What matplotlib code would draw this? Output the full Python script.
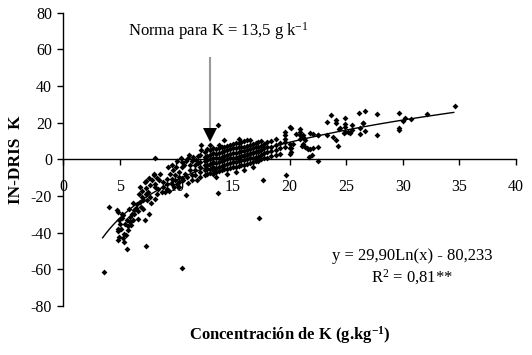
import numpy as np
import matplotlib.pyplot as plt

plt.rcParams['font.family'] = 'Liberation Serif'
plt.rcParams['mathtext.fontset'] = 'custom'
plt.rcParams['mathtext.rm'] = 'Liberation Serif'
plt.rcParams['axes.unicode_minus'] = False

# --- datos (K g/kg, IN-DRIS K) ---
# zona baja (K < 9)
k_low = [4.06, 4.8, 4.9, 5.2, 5.3, 4.97, 5.03, 4.88, 4.88, 4.97, 4.88, 5.32, 5.38,
         5.77, 5.77, 5.91, 5.62, 5.91, 6.06, 6.27, 6.44, 6.56, 6.8, 6.94, 7.33,
         7.33, 7.24, 6.8, 7.09, 7.44, 7.68, 7.53, 8.06, 8.12, 8.12, 8.27, 8.12,
         7.62, 7.24, 6.65, 6.21, 8.5, 8.85, 8.85, 8.7, 5.1, 5.5, 5.6, 5.4, 6.0,
         5.2, 6.3, 6.6, 6.9, 7.0, 7.7, 7.9, 8.3, 8.4, 7.8, 7.1, 6.2, 5.8, 6.7,
         8.0, 7.6, 8.6]
dris_low = [-26.2, -27.8, -28.5, -30, -30.5, -33.2, -35.4, -37.8, -39, -42.3, -44.1,
            -42.7, -40.5, -38.7, -36.5, -34.2, -33.2, -31.4, -29.6, -27.4, -26.3,
            -24.5, -23.3, -20.5, -18.7, -15.4, -12.4, -15.1, -22.3, -22, -20.5,
            -17.8, -8.7, -13.2, -15, -18.7, -21.4, -29.6, -33.2, -32.3, -33.2,
            -11.4, -12.4, -15, -17.8, -38, -35, -41, -45, -36, -32, -30, -28, -26,
            -17, -14, -11, -10, -16, -24, -27, -24, -27, -19, -7.8, -10, -8]

# zona 9 - 12.5
k_mid1 = [9.15, 9.15, 9.21, 9.44, 9.59, 9.59, 9.74, 9.89, 9.89, 10.03, 10.27, 10.27,
          10.27, 10.47, 10.47, 10.62, 10.92, 10.77, 11.21, 11.36, 11.36, 11.65,
          11.65, 11.65, 11.8, 12.09, 12.09, 12.09, 9.3, 9.6, 10.0, 10.1, 10.4,
          10.7, 10.9, 11.0, 11.1, 11.2, 11.4, 11.5, 11.7, 11.9, 11.9, 12.15, 12.15,
          12.1, 12.1, 9.0, 9.4, 10.2, 11.0, 10.5, 9.8]
dris_mid1 = [-10.5, -13.2, -16, -7.8, -10.5, -13.2, -6, -8.7, -11.4, -13.2, -6.9,
             -9.6, -12.4, -1.5, -4.2, -11.4, -9.6, -7.8, -6, -8.7, -11.4, -3.3, -6,
             -8.7, -11.1, -4.2, -6.9, -9.6, -4, -3, -4, -1, 0.5, -3, -1, 1, 2.2, -3,
             -1, 1.5, -0.5, 2, -2, 7.6, 5.3, 2.5, -1.5, -18, -17, -15, -13, -10, -15]

# zona densa 12.5 - 20 (columnas)
k_cols = [12.5, 12.75, 13.0, 13.25, 13.5, 13.75, 14.0, 14.25, 14.5, 14.75, 15.0,
          15.25, 15.5, 15.75, 16.0, 16.25, 16.5, 16.75, 17.0, 17.25, 17.5, 17.75,
          18.0, 18.4, 18.8, 19.2, 19.6, 20.0]
dris_cols = [[-8.7, -6, -3.3, -1, 1.5, 4],
             [-8, -5.5, -3, -0.5, 2, 5.5],
             [-7.5, -5, -2.5, 0, 2.5, 5, 8],
             [-8, -6, -4, -1.5, 1, 3.5, 6],
             [-9.5, -7, -4.5, -2, 0.5, 3, 5.5],
             [-6.5, -4, -1.5, 1, 3.5, 6, 8],
             [-6, -3.5, -1, 1.5, 4, 6.5],
             [-5.5, -3, -0.5, 2, 4.5, 7, 10.6],
             [-8, -5, -2.5, 0, 2.5, 5, 7.5],
             [-4.5, -2, 0.5, 3, 5.5, 8],
             [-4, -1.5, 1, 3.5, 6, 8.5],
             [-7, -4, -1.5, 1, 3.5, 6, 9],
             [-3.5, -1, 1.5, 4, 6.5, 9, 11],
             [-3, -0.5, 2, 4.5, 7, 9.5],
             [-6, -3, -0.5, 2, 4.5, 7, 10],
             [-2.5, 0, 2.5, 5, 7.5, 10.5],
             [-2, 0.5, 3, 5.5, 8, 10.5],
             [-4, -1.5, 1, 3.5, 6, 8.5],
             [-1, 1.5, 4, 6.5, 9],
             [-1, 1.5, 4, 6.5, 9.5],
             [0, 2.5, 5, 7.5, 10],
             [1, 3.5, 6, 8.5],
             [1, 4, 6.5, 9.5],
             [2, 4.5, 7, 10],
             [2.5, 5, 8, 11],
             [3, 6, 9],
             [6.7, 9.4, 11.3, 14.9, 13.1],
             [3.1, 6.4, 8.5, 17.6]]

# zona alta (K > 20)
k_high = [20.1, 20.9, 20.9, 20.9, 20.6, 21.2, 21.8, 22.1, 21.4, 20.3, 21.1, 21.5,
          21.8, 22.1, 21.95, 21.7, 20.1, 20.1, 21.2, 21.6, 21.4, 22.5, 22.5, 22.5,
          22.5, 23.3, 23.3, 23.7, 23.8, 24.1, 24.1, 24.1, 24.3, 24.4, 24.5, 24.8,
          24.9, 24.9, 24.9, 24.9, 25.2, 25.3, 25.5, 25.5, 26.1, 26.2, 26.2, 26.5,
          26.5, 26.7, 26.7, 27.7, 27.7, 29.7, 29.7, 29.7, 30.0, 30.2, 30.7, 32.1,
          34.6, 20.9, 21.2]
dris_high = [17.3, 16.7, 14.9, 13.1, 14, 13.1, 14.4, 14, 10.7, 8.5, 7.1, 6.4, 5.8,
             6.4, 2.2, 1.3, 6.4, 4, 12.2, 5.8, 6.7, 13.1, 6.7, -0.9, 13.1, 20.5,
             13.1, 24, 12.2, 21.3, 19.8, 10.4, 7.5, 16.7, 17, 14.6, 22.5, 19.4,
             17.6, 14.8, 14.8, 14.4, 18.5, 15.8, 25.2, 13.6, 17, 19.8, 20, 26.3,
             15.4, 24.9, 13.1, 25.4, 17, 16, 20.9, 22.7, 21.8, 24.5, 29.1, 11.3, 8.5]

# puntos aislados
k_out = [3.6, 5.65, 7.3, 10.5, 8.1, 10.9, 13.7, 13.7, 17.3, 17.7, 19.7, 7.3]
dris_out = [-61.6, -49, -47, -59.4, 1.0, -19.6, -18.5, 19, -32, -11.4, -8.7, -12]

# ajuste logaritmico
fit_a = 29.90
fit_b = -80.233
fit_range = (3.5, 34.5)
norma_k = 12.95

k_all = k_low + k_mid1 + [k for k, col in zip(k_cols, dris_cols) for _ in col] + k_high + k_out
dris_all = dris_low + dris_mid1 + [v for col in dris_cols for v in col] + dris_high + dris_out

fig = plt.figure(figsize=(5.32, 3.55), dpi=100)
ax = fig.add_axes([0.1184, 0.138, 0.8516, 0.826])

ax.plot(k_all, dris_all, 'D', color='black', ms=3.0, mew=0)

xs = np.linspace(fit_range[0], fit_range[1], 200)
ax.plot(xs, fit_a * np.log(xs) + fit_b, color='black', lw=1)

ax.set_xlim(0, 40)
ax.set_ylim(-80, 80)
ax.set_xticks(range(0, 41, 5))
ax.set_yticks(range(-80, 81, 20))

ax.spines['top'].set_visible(False)
ax.spines['right'].set_visible(False)
ax.spines['bottom'].set_position(('data', 0))
ax.spines['left'].set_linewidth(1)
ax.spines['bottom'].set_linewidth(1)
ax.tick_params(axis='y', direction='out', length=4, width=1, pad=4, labelsize=11.5)
ax.tick_params(axis='x', direction='out', length=4, width=1, pad=10, labelsize=11.5)

ax.set_ylabel('IN-DRIS  K', fontsize=12.5, fontweight='bold')
ax.yaxis.set_label_coords(-0.085, 0.5)
fig.text(290 / 532, 1 - 335 / 355, r'Concentración de K (g.kg$\mathregular{^{-1}}$)',
         fontsize=12, fontweight='bold', ha='center', va='center')

# flecha de la norma
ax.plot([norma_k, norma_k], [55.5, 15], color='#999999', lw=1.5)
ax.plot(norma_k, 13.2, marker='v', ms=10, color='black', mew=0)
ax.text(5.74, 70.3, r'Norma para K = 13,5 g k$\mathregular{^{-1}}$', fontsize=12,
        va='center', ha='left')

ax.text(30.8, -52.9, 'y = 29,90Ln(x) - 80,233', fontsize=12, ha='center', va='center')
ax.text(30.8, -64.3, r'R$\mathregular{^2}$ = 0,81**', fontsize=12, ha='center', va='center')

fig.savefig('out.png', dpi=100)
